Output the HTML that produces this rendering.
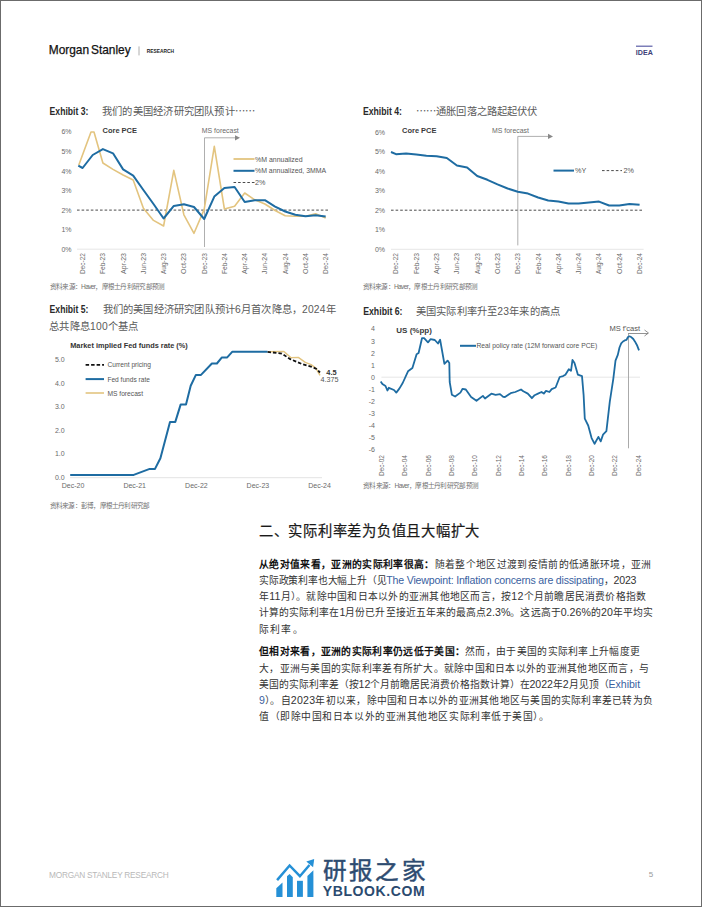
<!DOCTYPE html>
<html lang="zh-CN"><head><meta charset="utf-8">
<style>
html,body{margin:0;padding:0;background:#fff;}
body{width:702px;height:907px;overflow:hidden;position:relative;}
svg{position:absolute;left:0;top:0;}
text{font-family:"Liberation Sans", sans-serif;}
.ax{font-size:7px;fill:#6a6a6a;}
.ax2{font-size:8px;fill:#555;}
.ct{font-size:8px;font-weight:bold;fill:#3a3a3a;}
.ct2{font-size:7.6px;font-weight:bold;fill:#333;}
.lg{font-size:7.2px;fill:#555;}
.lgb{font-size:7.4px;font-weight:bold;fill:#333;}
.ms{font-size:12.4px;fill:#111;stroke:#111;stroke-width:0.25px;word-spacing:-1.5px;}
.rs{font-size:5.5px;font-weight:bold;fill:#222;}
.idea{font-size:7px;font-weight:bold;fill:#3d3f78;}
.ex{font-size:10.2px;font-weight:bold;fill:#2a2a2a;}
.et{font-size:10.3px;fill:#5a5a5a;}
.src{font-size:6.6px;fill:#707070;}
.h2{font-size:14.3px;font-weight:normal;fill:#1a1a1a;stroke:#1a1a1a;stroke-width:0.22px;}
.bd{font-size:9.8px;fill:#333;}
.b{font-weight:bold;fill:#111;}
.lt{font-size:10.6px;}
.ft{font-size:8.3px;fill:#b8b8b8;}
.pn{font-size:8px;fill:#999;}
.lz{font-size:23.6px;font-weight:normal;fill:#2d4b70;stroke:#2d4b70;stroke-width:0.45px;}
.lz2{font-size:14px;font-weight:bold;fill:#2b4a6f;}
</style></head><body>
<svg width="702" height="907" viewBox="0 0 702 907">
<rect x="0.5" y="0.5" width="701" height="906" fill="#fff" stroke="#6b6b6b" stroke-width="1"/>
<text x="48.8" y="54.1" class="ms" textLength="81.8" lengthAdjust="spacingAndGlyphs">Morgan Stanley</text>
<line x1="139" y1="46.4" x2="139" y2="55.4" stroke="#999" stroke-width="0.8"/>
<text x="146.7" y="52.9" class="rs" textLength="27.3" lengthAdjust="spacingAndGlyphs">RESEARCH</text>
<line x1="636" y1="46.2" x2="652.5" y2="46.2" stroke="#5b5ea6" stroke-width="1.2"/>
<text x="635.8" y="54.5" class="idea" textLength="17" lengthAdjust="spacingAndGlyphs">IDEA</text>
<text x="49.6" y="115" class="ex" textLength="38.8" lengthAdjust="spacingAndGlyphs">Exhibit 3:</text>
<text x="102" y="114.6" class="et" textLength="153" lengthAdjust="spacing">我们的美国经济研究团队预计⋯⋯</text>
<text x="362.9" y="115" class="ex" textLength="39.1" lengthAdjust="spacingAndGlyphs">Exhibit 4:</text>
<text x="416" y="114.6" class="et" textLength="121.3" lengthAdjust="spacing">⋯⋯通胀回落之路起起伏伏</text>
<text x="49.6" y="313.3" class="ex" textLength="38.8" lengthAdjust="spacingAndGlyphs">Exhibit 5:</text>
<text x="102.7" y="313.1" class="et" textLength="233" lengthAdjust="spacing">我们的美国经济研究团队预计6月首次降息，2024年</text>
<text x="49.3" y="330.2" class="et" textLength="89" lengthAdjust="spacing">总共降息100个基点</text>
<text x="363.2" y="315.1" class="ex" textLength="39.3" lengthAdjust="spacingAndGlyphs">Exhibit 6:</text>
<text x="415.7" y="314.9" class="et" textLength="144.3" lengthAdjust="spacing">美国实际利率升至23年来的高点</text>
<text x="49.6" y="288.8" class="src" textLength="115.7" lengthAdjust="spacing">资料来源：Haver，摩根士丹利研究部预测</text>
<text x="362.5" y="288.8" class="src" textLength="115.7" lengthAdjust="spacing">资料来源：Haver，摩根士丹利研究部预测</text>
<text x="49.6" y="508.1" class="src" textLength="100.6" lengthAdjust="spacing">资料来源：彭博，摩根士丹利研究部</text>
<text x="363" y="488.1" class="src" textLength="116.1" lengthAdjust="spacing">资料来源：Haver，摩根士丹利研究部预测</text>
<text x="258.8" y="536.3" class="h2" textLength="220.5" lengthAdjust="spacing">二、实际利率差为负值且大幅扩大</text>
<text id="bl0" x="259" y="567.5" class="bd" textLength="392.20" lengthAdjust="spacing"><tspan class="b">从绝对值来看，亚洲的实际利率很高：</tspan>随着整个地区过渡到疫情前的低通胀环境，亚洲</text>
<text id="bl1" x="259" y="583.9" class="bd" textLength="377.50" lengthAdjust="spacing">实际政策利率也大幅上升（见<tspan fill="#3a5f9f" class="lt">The Viewpoint: Inflation concerns are dissipating</tspan>，<tspan class="lt">2023</tspan></text>
<text id="bl2" x="259" y="599.5" class="bd" textLength="387.20" lengthAdjust="spacing">年<tspan class="lt">11</tspan>月）。就除中国和日本以外的亚洲其他地区而言，按<tspan class="lt">12</tspan>个月前瞻居民消费价格指数</text>
<text id="bl3" x="259" y="616.4" class="bd" textLength="394.11" lengthAdjust="spacing">计算的实际利率在<tspan class="lt">1</tspan>月份已升至接近五年来的最高点<tspan class="lt">2.3%</tspan>。这远高于<tspan class="lt">0.26%</tspan>的<tspan class="lt">20</tspan>年平均实</text>
<text id="bl4" x="259" y="633.2" class="bd" textLength="43.60" lengthAdjust="spacing">际利率。</text>
<text id="bl5" x="259" y="655.2" class="bd" textLength="381.00" lengthAdjust="spacing"><tspan class="b">但相对来看，亚洲的实际利率仍远低于美国：</tspan>然而，由于美国的实际利率上升幅度更</text>
<text id="bl6" x="259" y="672.0" class="bd" textLength="390.00" lengthAdjust="spacing">大，亚洲与美国的实际利率差有所扩大。就除中国和日本以外的亚洲其他地区而言，与</text>
<text id="bl7" x="259" y="688.0" class="bd" textLength="381.08" lengthAdjust="spacing">美国的实际利率差（按<tspan class="lt">12</tspan>个月前瞻居民消费价格指数计算）在<tspan class="lt">2022</tspan>年<tspan class="lt">2</tspan>月见顶（<tspan fill="#3a5f9f" class="lt">Exhibit</tspan></text>
<text id="bl8" x="259" y="704.0" class="bd" textLength="393.88" lengthAdjust="spacing"><tspan fill="#3a5f9f" class="lt">9</tspan>）。自<tspan class="lt">2023</tspan>年初以来，除中国和日本以外的亚洲其他地区与美国的实际利率差已转为负</text>
<text id="bl9" x="259" y="719.9" class="bd" textLength="290.00" lengthAdjust="spacing">值（即除中国和日本以外的亚洲其他地区实际利率低于美国）。</text>
<text x="49.1" y="878" class="ft" textLength="119.6" lengthAdjust="spacing">MORGAN STANLEY RESEARCH</text>
<text x="648.8" y="877" class="pn">5</text>
<text x="71.5" y="251.7" text-anchor="end" class="ax">0%</text>
<text x="71.5" y="232.1" text-anchor="end" class="ax">1%</text>
<text x="71.5" y="212.6" text-anchor="end" class="ax">2%</text>
<text x="71.5" y="193.0" text-anchor="end" class="ax">3%</text>
<text x="71.5" y="173.5" text-anchor="end" class="ax">4%</text>
<text x="71.5" y="153.9" text-anchor="end" class="ax">5%</text>
<text x="71.5" y="134.4" text-anchor="end" class="ax">6%</text>
<line x1="77" y1="249.2" x2="330" y2="249.2" stroke="#e6e6e6" stroke-width="1"/>
<line x1="77" y1="210.1" x2="330" y2="210.1" stroke="#4a4a4a" stroke-width="1" stroke-dasharray="2.6,2"/>
<text transform="translate(85.0,274) rotate(-90)" class="ax" textLength="21" lengthAdjust="spacingAndGlyphs">Dec-22</text>
<text transform="translate(105.3,274) rotate(-90)" class="ax" textLength="21" lengthAdjust="spacingAndGlyphs">Feb-23</text>
<text transform="translate(125.5,274) rotate(-90)" class="ax" textLength="21" lengthAdjust="spacingAndGlyphs">Apr-23</text>
<text transform="translate(145.8,274) rotate(-90)" class="ax" textLength="21" lengthAdjust="spacingAndGlyphs">Jun-23</text>
<text transform="translate(166.0,274) rotate(-90)" class="ax" textLength="21" lengthAdjust="spacingAndGlyphs">Aug-23</text>
<text transform="translate(186.3,274) rotate(-90)" class="ax" textLength="21" lengthAdjust="spacingAndGlyphs">Oct-23</text>
<text transform="translate(206.6,274) rotate(-90)" class="ax" textLength="21" lengthAdjust="spacingAndGlyphs">Dec-23</text>
<text transform="translate(226.8,274) rotate(-90)" class="ax" textLength="21" lengthAdjust="spacingAndGlyphs">Feb-24</text>
<text transform="translate(247.1,274) rotate(-90)" class="ax" textLength="21" lengthAdjust="spacingAndGlyphs">Apr-24</text>
<text transform="translate(267.3,274) rotate(-90)" class="ax" textLength="21" lengthAdjust="spacingAndGlyphs">Jun-24</text>
<text transform="translate(287.6,274) rotate(-90)" class="ax" textLength="21" lengthAdjust="spacingAndGlyphs">Aug-24</text>
<text transform="translate(307.9,274) rotate(-90)" class="ax" textLength="21" lengthAdjust="spacingAndGlyphs">Oct-24</text>
<text transform="translate(328.1,274) rotate(-90)" class="ax" textLength="21" lengthAdjust="spacingAndGlyphs">Dec-24</text>
<line x1="204.5" y1="137.8" x2="204.5" y2="247" stroke="#9a9a9a" stroke-width="0.8"/>
<line x1="204.5" y1="137.8" x2="236" y2="137.8" stroke="#9a9a9a" stroke-width="0.8"/>
<path d="M235,135.2 L240,137.8 L235,140.4 Z" fill="#888"/>
<text x="201.8" y="133" class="ax" fill="#777" textLength="37" lengthAdjust="spacingAndGlyphs">MS forecast</text>
<text x="102.5" y="132.8" class="ct" textLength="34.5" lengthAdjust="spacingAndGlyphs">Core PCE</text>
<polyline points="78.8,165.0 91.0,132.0 94.0,132.0 102.9,163.0 113.0,169.4 123.1,175.0 133.2,180.0 143.4,208.3 153.5,220.4 163.6,226.0 173.8,170.4 183.9,214.8 194.0,233.3 204.2,209.4 214.3,146.4 224.4,209.0 234.6,206.2 244.7,193.0 254.8,199.8 264.9,204.0 275.1,210.5 285.2,215.8 295.3,216.2 305.5,216.2 315.6,213.7 325.7,218.0" fill="none" stroke="#e3c47f" stroke-width="1.6" stroke-linejoin="round"/>
<polyline points="78.3,165.7 82.6,168.0 92.7,155.0 102.9,149.1 113.0,153.3 123.1,169.4 133.2,175.6 143.4,190.0 153.5,204.0 163.6,218.5 173.8,205.9 183.9,204.3 194.0,207.0 204.2,219.0 214.3,196.6 224.4,188.0 234.6,187.0 244.7,202.0 254.8,200.2 264.9,200.2 275.1,206.6 285.2,211.5 295.3,214.7 305.5,216.2 315.6,215.2 325.7,216.5" fill="none" stroke="#1e6ca2" stroke-width="2" stroke-linejoin="round"/>
<line x1="233.5" y1="159" x2="254.5" y2="159" stroke="#e3c47f" stroke-width="1.8"/>
<text x="255" y="161.5" class="lg" textLength="47.6" lengthAdjust="spacingAndGlyphs">%M annualized</text>
<line x1="233.5" y1="170.8" x2="254.5" y2="170.8" stroke="#1e6ca2" stroke-width="2"/>
<text x="255" y="173.3" class="lg" textLength="71.2" lengthAdjust="spacingAndGlyphs">%M annualized, 3MMA</text>
<line x1="233.5" y1="182.5" x2="254.5" y2="182.5" stroke="#4a4a4a" stroke-width="1" stroke-dasharray="2.6,2"/>
<text x="255" y="185" class="lg">2%</text>
<text x="385" y="251.8" text-anchor="end" class="ax">0%</text>
<text x="385" y="232.2" text-anchor="end" class="ax">1%</text>
<text x="385" y="212.7" text-anchor="end" class="ax">2%</text>
<text x="385" y="193.2" text-anchor="end" class="ax">3%</text>
<text x="385" y="173.6" text-anchor="end" class="ax">4%</text>
<text x="385" y="154.1" text-anchor="end" class="ax">5%</text>
<text x="385" y="134.5" text-anchor="end" class="ax">6%</text>
<line x1="391" y1="249.3" x2="643.6" y2="249.3" stroke="#e6e6e6" stroke-width="1"/>
<line x1="391" y1="210.2" x2="643" y2="210.2" stroke="#4a4a4a" stroke-width="1" stroke-dasharray="2.6,2"/>
<text transform="translate(398.4,274) rotate(-90)" class="ax" textLength="21" lengthAdjust="spacingAndGlyphs">Dec-22</text>
<text transform="translate(418.7,274) rotate(-90)" class="ax" textLength="21" lengthAdjust="spacingAndGlyphs">Feb-23</text>
<text transform="translate(439.0,274) rotate(-90)" class="ax" textLength="21" lengthAdjust="spacingAndGlyphs">Apr-23</text>
<text transform="translate(459.3,274) rotate(-90)" class="ax" textLength="21" lengthAdjust="spacingAndGlyphs">Jun-23</text>
<text transform="translate(479.6,274) rotate(-90)" class="ax" textLength="21" lengthAdjust="spacingAndGlyphs">Aug-23</text>
<text transform="translate(499.9,274) rotate(-90)" class="ax" textLength="21" lengthAdjust="spacingAndGlyphs">Oct-23</text>
<text transform="translate(520.2,274) rotate(-90)" class="ax" textLength="21" lengthAdjust="spacingAndGlyphs">Dec-23</text>
<text transform="translate(540.5,274) rotate(-90)" class="ax" textLength="21" lengthAdjust="spacingAndGlyphs">Feb-24</text>
<text transform="translate(560.8,274) rotate(-90)" class="ax" textLength="21" lengthAdjust="spacingAndGlyphs">Apr-24</text>
<text transform="translate(581.1,274) rotate(-90)" class="ax" textLength="21" lengthAdjust="spacingAndGlyphs">Jun-24</text>
<text transform="translate(601.4,274) rotate(-90)" class="ax" textLength="21" lengthAdjust="spacingAndGlyphs">Aug-24</text>
<text transform="translate(621.7,274) rotate(-90)" class="ax" textLength="21" lengthAdjust="spacingAndGlyphs">Oct-24</text>
<text transform="translate(642.0,274) rotate(-90)" class="ax" textLength="21" lengthAdjust="spacingAndGlyphs">Dec-24</text>
<line x1="517.8" y1="136.4" x2="517.8" y2="245.4" stroke="#9a9a9a" stroke-width="0.8"/>
<line x1="517.8" y1="136.4" x2="549" y2="136.4" stroke="#9a9a9a" stroke-width="0.8"/>
<path d="M548,133.8 L553,136.4 L548,139 Z" fill="#888"/>
<text x="492" y="133" class="ax" fill="#777" textLength="37" lengthAdjust="spacingAndGlyphs">MS forecast</text>
<text x="402" y="132.8" class="ct" textLength="34.5" lengthAdjust="spacingAndGlyphs">Core PCE</text>
<polyline points="391.0,152.0 396.0,154.2 406.1,153.5 416.3,154.5 426.4,155.7 436.6,156.3 446.8,158.0 456.9,165.5 467.1,167.4 477.2,176.0 487.4,179.8 497.5,184.3 507.6,188.5 517.8,191.8 528.0,193.6 538.1,197.5 548.2,200.5 558.4,201.6 568.5,203.6 578.7,203.4 588.9,202.5 599.0,201.6 609.1,205.5 619.3,205.5 629.5,203.9 639.6,204.8" fill="none" stroke="#1e6ca2" stroke-width="2" stroke-linejoin="round"/>
<line x1="553.5" y1="170.6" x2="574" y2="170.6" stroke="#1e6ca2" stroke-width="2"/>
<text x="575" y="173.1" class="lg">%Y</text>
<line x1="602" y1="170.6" x2="622" y2="170.6" stroke="#4a4a4a" stroke-width="1" stroke-dasharray="2.6,2"/>
<text x="623.5" y="173.1" class="lg">2%</text>
<text x="64.7" y="479.5" text-anchor="end" class="ax">0.0</text>
<text x="64.7" y="456.1" text-anchor="end" class="ax">1.0</text>
<text x="64.7" y="432.7" text-anchor="end" class="ax">2.0</text>
<text x="64.7" y="409.2" text-anchor="end" class="ax">3.0</text>
<text x="64.7" y="385.8" text-anchor="end" class="ax">4.0</text>
<text x="64.7" y="362.4" text-anchor="end" class="ax">5.0</text>
<line x1="70" y1="477.7" x2="322" y2="477.7" stroke="#e3e3e3" stroke-width="1"/>
<text x="73" y="488.2" text-anchor="middle" class="ax">Dec-20</text>
<text x="134.7" y="488.2" text-anchor="middle" class="ax">Dec-21</text>
<text x="196.4" y="488.2" text-anchor="middle" class="ax">Dec-22</text>
<text x="257.9" y="488.2" text-anchor="middle" class="ax">Dec-23</text>
<text x="319.5" y="488.2" text-anchor="middle" class="ax">Dec-24</text>
<text x="70.2" y="347.7" class="ct2" textLength="117.6" lengthAdjust="spacingAndGlyphs">Market implied Fed funds rate (%)</text>
<polyline points="267.5,351.7 283.9,351.4 290.8,357.6 298.3,357.4 305.3,362.4 311.1,364.6 316.0,368.3 320.0,375.3" fill="none" stroke="#e3c47f" stroke-width="1.4" stroke-linejoin="round"/>
<polyline points="267.5,351.9 281.8,353.5 290.3,359.2 302.0,364.0 312.7,367.2 316.5,369.0 320.0,372.5" fill="none" stroke="#111" stroke-width="1.8" stroke-dasharray="3.5,2"/>
<polyline points="70.2,474.9 133.7,474.9 149.7,468.9 155.0,468.9 160.4,458.2 170.0,421.9 175.3,421.9 180.7,404.4 186.0,404.4 190.7,385.8 195.9,374.9 201.0,374.9 211.9,363.5 216.9,363.5 221.9,357.4 227.2,357.4 232.4,351.7 267.5,351.7" fill="none" stroke="#1e6ca2" stroke-width="2" stroke-linejoin="round"/>
<line x1="85.6" y1="364.8" x2="104" y2="364.8" stroke="#111" stroke-width="1.8" stroke-dasharray="3.5,2"/>
<text x="107.4" y="367.3" class="lg" textLength="43.6" lengthAdjust="spacingAndGlyphs">Current pricing</text>
<line x1="85.6" y1="379.1" x2="104" y2="379.1" stroke="#1e6ca2" stroke-width="2"/>
<text x="107.4" y="381.6" class="lg" textLength="42.5" lengthAdjust="spacingAndGlyphs">Fed funds rate</text>
<line x1="85.6" y1="393" x2="104" y2="393" stroke="#e3c47f" stroke-width="1.6"/>
<text x="107.4" y="395.5" class="lg" textLength="35.7" lengthAdjust="spacingAndGlyphs">MS forecast</text>
<text x="326.3" y="374.8" class="lgb">4.5</text>
<text x="320.6" y="382.3" class="lg">4.375</text>
<text x="375" y="452.4" text-anchor="end" class="ax">-6</text>
<text x="375" y="440.3" text-anchor="end" class="ax">-5</text>
<text x="375" y="428.2" text-anchor="end" class="ax">-4</text>
<text x="375" y="416.1" text-anchor="end" class="ax">-3</text>
<text x="375" y="404.0" text-anchor="end" class="ax">-2</text>
<text x="375" y="391.9" text-anchor="end" class="ax">-1</text>
<text x="375" y="379.8" text-anchor="end" class="ax">0</text>
<text x="375" y="367.7" text-anchor="end" class="ax">1</text>
<text x="375" y="355.6" text-anchor="end" class="ax">2</text>
<text x="375" y="343.5" text-anchor="end" class="ax">3</text>
<text x="375" y="331.4" text-anchor="end" class="ax">4</text>
<line x1="381.4" y1="377.2" x2="640" y2="377.2" stroke="#e6e6e6" stroke-width="1"/>
<text transform="translate(383.8,476) rotate(-90)" class="ax" textLength="21" lengthAdjust="spacingAndGlyphs">Dec-02</text>
<text transform="translate(407.2,476) rotate(-90)" class="ax" textLength="21" lengthAdjust="spacingAndGlyphs">Dec-04</text>
<text transform="translate(430.5,476) rotate(-90)" class="ax" textLength="21" lengthAdjust="spacingAndGlyphs">Dec-06</text>
<text transform="translate(453.9,476) rotate(-90)" class="ax" textLength="21" lengthAdjust="spacingAndGlyphs">Dec-08</text>
<text transform="translate(477.2,476) rotate(-90)" class="ax" textLength="21" lengthAdjust="spacingAndGlyphs">Dec-10</text>
<text transform="translate(500.6,476) rotate(-90)" class="ax" textLength="21" lengthAdjust="spacingAndGlyphs">Dec-12</text>
<text transform="translate(524.0,476) rotate(-90)" class="ax" textLength="21" lengthAdjust="spacingAndGlyphs">Dec-14</text>
<text transform="translate(547.3,476) rotate(-90)" class="ax" textLength="21" lengthAdjust="spacingAndGlyphs">Dec-16</text>
<text transform="translate(570.7,476) rotate(-90)" class="ax" textLength="21" lengthAdjust="spacingAndGlyphs">Dec-18</text>
<text transform="translate(594.0,476) rotate(-90)" class="ax" textLength="21" lengthAdjust="spacingAndGlyphs">Dec-20</text>
<text transform="translate(617.4,476) rotate(-90)" class="ax" textLength="21" lengthAdjust="spacingAndGlyphs">Dec-22</text>
<text transform="translate(640.8,476) rotate(-90)" class="ax" textLength="21" lengthAdjust="spacingAndGlyphs">Dec-24</text>
<line x1="628.5" y1="333" x2="628.5" y2="448.3" stroke="#a0a0a0" stroke-width="0.9"/>
<line x1="628.5" y1="333.5" x2="648" y2="333.5" stroke="#777" stroke-width="0.8"/>
<path d="M644.5,330 L648.5,333 L644.5,336" fill="none" stroke="#777" stroke-width="0.8"/>
<text x="609.4" y="331.2" class="ax2" textLength="30.8" lengthAdjust="spacingAndGlyphs">MS f'cast</text>
<text x="396.3" y="333.2" class="ct">US (%pp)</text>
<line x1="460" y1="345.8" x2="476" y2="345.8" stroke="#1e6ca2" stroke-width="2"/>
<text x="476.5" y="348.2" class="lg" textLength="120.8" lengthAdjust="spacingAndGlyphs">Real policy rate (12M forward core PCE)</text>
<polyline points="380.7,381.5 382.4,384.0 385.5,386.0 387.4,390.5 388.8,387.8 394.0,390.0 396.3,392.6 399.5,388.4 402.7,383.0 408.0,371.3 412.4,368.0 416.6,354.2 418.6,353.0 422.0,338.2 424.1,338.2 428.0,342.4 430.5,339.2 434.8,340.0 438.0,343.5 440.1,339.7 442.3,352.0 444.4,363.8 447.6,360.6 449.3,363.0 449.7,382.0 451.9,394.8 455.1,396.5 460.4,392.6 462.6,388.8 465.8,389.5 471.1,396.9 476.5,400.8 482.9,395.9 485.0,398.5 491.4,393.7 495.6,394.8 500.0,394.1 503.2,396.9 505.0,397.0 510.7,393.2 515.3,392.0 521.0,389.5 523.3,391.3 527.8,393.6 531.9,398.2 534.6,395.2 538.0,393.6 541.5,392.0 543.8,393.6 546.0,390.9 549.4,392.0 551.7,389.1 555.6,387.5 559.7,377.0 563.1,376.1 565.4,374.7 568.8,369.2 571.0,370.8 572.5,359.9 574.5,362.9 577.9,374.7 582.0,376.1 583.6,394.8 584.8,418.7 588.2,425.5 591.6,438.1 594.6,443.8 598.4,436.9 600.7,441.4 603.0,434.7 606.4,431.2 609.8,401.6 613.3,378.8 615.5,360.6 617.8,354.9 619.5,347.5 621.2,343.4 623.0,341.5 624.7,340.4 626.5,339.8 628.0,337.0 629.5,336.3 631.5,337.3 633.3,339.0 634.9,341.4 637.0,345.2 639.0,350.3" fill="none" stroke="#1e6ca2" stroke-width="1.8" stroke-linejoin="round"/>
<path d="M276.3,888.3 L282.5,882.6 L282.5,896.9 L276.3,896.9 Z" fill="#2590d6"/>
<path d="M287,876.2 L289.6,874.1 L292.8,877.3 L292.8,896.9 L287,896.9 Z" fill="#2590d6"/>
<path d="M297,880.8 L302.9,880.8 L302.9,896.9 L297,896.9 Z" fill="#2590d6"/>
<path d="M307.4,875.9 L313.4,870.2 L313.4,896.9 L307.4,896.9 Z" fill="#2590d6"/>
<polyline points="277.1,880.1 289.6,865.5 299.9,876.2 309.5,865" fill="none" stroke="#2590d6" stroke-width="2.5"/>
<path d="M314.2,859.1 L306.3,861.6 L313.1,867.3 Z" fill="#2590d6"/>
<text x="322.7" y="878.5" class="lz" textLength="103" lengthAdjust="spacing">研报之家</text>
<text x="322.7" y="896.3" class="lz2" textLength="102" lengthAdjust="spacing">YBLOOK.COM</text>
</svg>
</body></html>
